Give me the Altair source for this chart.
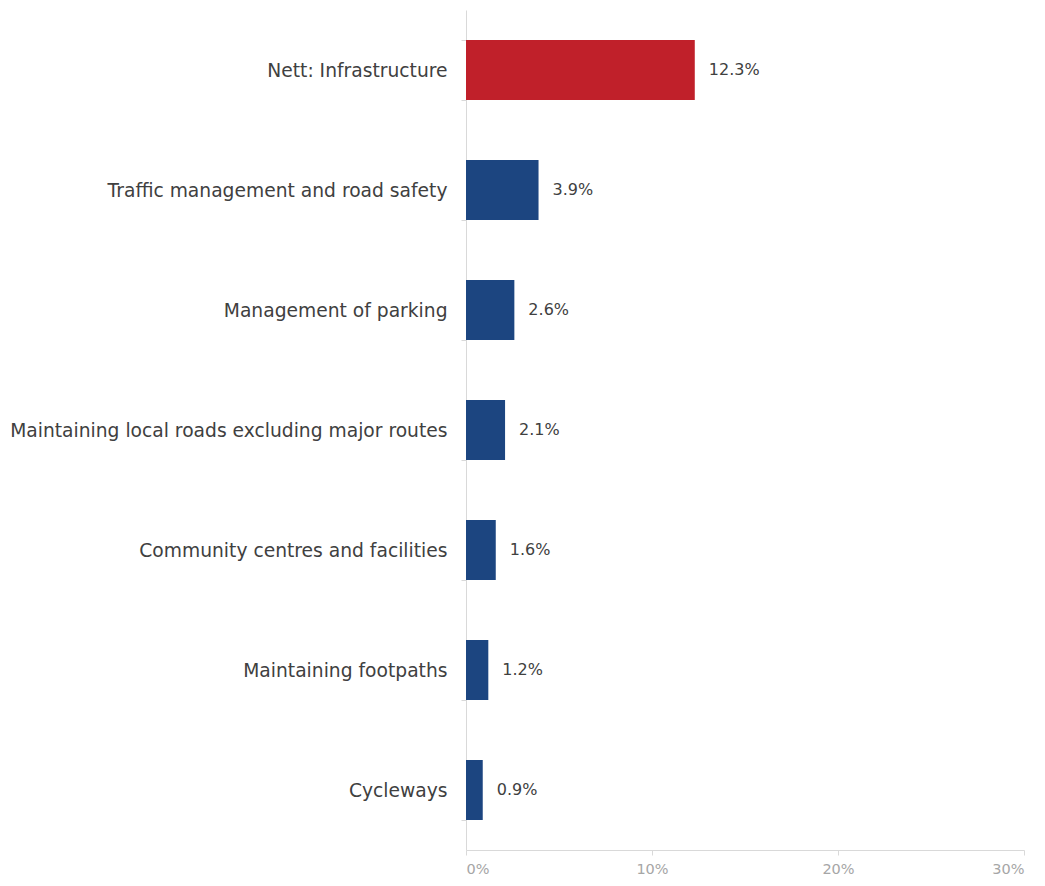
import altair as alt
import pandas as pd

categories = [
    "Nett: Infrastructure",
    "Traffic management and road safety",
    "Management of parking",
    "Maintaining local roads excluding major routes",
    "Community centres and facilities",
    "Maintaining footpaths",
    "Cycleways",
]
values = [12.3, 3.9, 2.6, 2.1, 1.6, 1.2, 0.9]
groups = ["Nett", "Item", "Item", "Item", "Item", "Item", "Item"]

df = pd.DataFrame({"category": categories, "value": [v / 100 for v in values], "group": groups})
df["label"] = [f"{v:.1f}%" for v in values]

FONT = "DejaVu Sans"

base = alt.Chart(df).encode(
    y=alt.Y(
        "category:N",
        sort=categories,
        title=None,
        scale=alt.Scale(paddingInner=0.5, paddingOuter=0.25),
        axis=alt.Axis(
            tickBand="extent",
            grid=False,
            domainColor="#d9d9d9",
            tickColor="#d9d9d9",
            tickSize=5,
            labelFont=FONT,
            labelFontSize=18.7,
            labelColor="#404040",
            labelPadding=14,
            labelLimit=600,
        ),
    ),
    x=alt.X(
        "value:Q",
        title=None,
        scale=alt.Scale(domain=[0, 0.3]),
        axis=alt.Axis(
            format=".0%",
            values=[0, 0.1, 0.2, 0.3],
            grid=False,
            domainColor="#d9d9d9",
            tickColor="#d9d9d9",
            tickSize=5,
            labelFont=FONT,
            labelFontSize=14.5,
            labelColor="#a6a6a6",
            labelPadding=7,
        ),
    ),
)

bars = base.mark_bar().encode(
    color=alt.Color(
        "group:N",
        scale=alt.Scale(domain=["Nett", "Item"], range=["#c0202a", "#1c4580"]),
        legend=None,
    )
)

text = base.mark_text(align="left", dx=14, font=FONT, fontSize=16, color="#404040").encode(
    text="label:N"
)

chart = (
    (bars + text)
    .properties(
        width=558,
        height=840,
        background="white",
        autosize=alt.AutoSizeParams(type="none"),
        padding={"left": 458, "top": 2, "right": 10, "bottom": 30},
    )
    .configure_view(strokeWidth=0, stroke="transparent")
)

chart.save("out.html", embed_options={"renderer": "svg", "actions": False})
